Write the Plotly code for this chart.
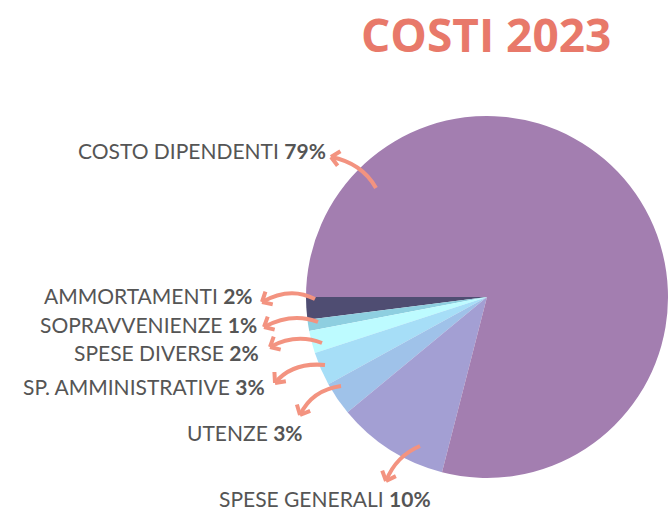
import math

import plotly.graph_objects as go

W, H = 668, 511

# ── Data ──────────────────────────────────────────────────────────────────────
categorie = [
    "AMMORTAMENTI",
    "SOPRAVVENIENZE",
    "SPESE DIVERSE",
    "SP. AMMINISTRATIVE",
    "UTENZE",
    "SPESE GENERALI",
    "COSTO DIPENDENTI",
]
percentuali = [2, 1, 2, 3, 3, 10, 79]
colori = ["#4f4d72", "#8ecfe0", "#bdfbff", "#a6def7", "#9fc2e9", "#a39fd3", "#a37eb0"]

# label anchor (px) and arrow path (start, control, tip) in px, same order as categorie
_LABEL_POS = [
    (255, 295, "right"),
    (259, 324, "right"),
    (261, 352, "right"),
    (267, 386, "right"),
    (305, 432, "right"),
    (325, 498, "center"),
    (328, 150, "right"),
]
_ARROWS = [
    ((315, 299), (290, 286), (262, 302)),
    ((318, 322), (292, 312), (264, 327)),
    ((322, 343), (296, 333), (270, 347)),
    ((325, 365), (292, 362), (275, 383)),
    ((341, 386), (312, 390), (300, 415)),
    ((420, 446), (396, 456), (386, 481)),
    ((376, 188), (362, 163), (331, 157)),
]
_ARROW_COLOR = "#f39380"
_TEXT_COLOR = "#555555"
_LABEL_FONT = "Lato, sans-serif"


def _px(x, y):
    return x / W, 1 - y / H


def _arrow_shapes(start, ctrl, tip):
    (x0, y0), (x1, y1), (x2, y2) = _px(*start), _px(*ctrl), _px(*tip)
    curve = dict(
        type="path", xref="paper", yref="paper",
        path=f"M {x0},{y0} Q {x1},{y1} {x2},{y2}",
        line=dict(color=_ARROW_COLOR, width=4),
    )
    # arrowhead from the tangent at the tip (pixel space)
    ang = math.atan2(tip[1] - ctrl[1], tip[0] - ctrl[0])
    heads = []
    for s in (1, -1):
        a = ang + math.pi - s * math.radians(42)
        hx, hy = _px(tip[0] + 11 * math.cos(a), tip[1] + 11 * math.sin(a))
        heads.append(f"M {hx},{hy} L {x2},{y2}")
    head = dict(
        type="path", xref="paper", yref="paper",
        path=" ".join(heads),
        line=dict(color=_ARROW_COLOR, width=4),
    )
    return [curve, head]


# ── Figure ────────────────────────────────────────────────────────────────────
cx, cy, r = 487, 297, 181
# counterclockwise pies end their first slice at `rotation`, so offset it
# to make the first slice start at 9 o'clock
rot = 270 - percentuali[0] / sum(percentuali) * 360
fig = go.Figure(
    go.Pie(
        labels=categorie,
        values=percentuali,
        marker=dict(colors=colori, line=dict(width=0)),
        sort=False,
        direction="counterclockwise",
        rotation=rot,
        textinfo="none",
        hoverinfo="label+percent",
        domain=dict(
            x=[(cx - r) / W, (cx + r) / W],
            y=[1 - (cy + r) / H, 1 - (cy - r) / H],
        ),
        showlegend=False,
    )
)

shapes = []
for a in _ARROWS:
    shapes += _arrow_shapes(*a)

annotations = []
for nome, v, (x, y, align) in zip(categorie, percentuali, _LABEL_POS):
    px_, py_ = _px(x, y)
    annotations.append(dict(
        x=px_, y=py_, xref="paper", yref="paper",
        text=f"{nome} <b>{v}%</b>",
        showarrow=False,
        xanchor=align, yanchor="middle",
        font=dict(family=_LABEL_FONT, size=21, color=_TEXT_COLOR),
    ))

tx, ty = _px(486, 34)
annotations.append(dict(
    x=tx, y=ty, xref="paper", yref="paper",
    text="<b>COSTI 2023</b>", showarrow=False,
    xanchor="center", yanchor="middle",
    font=dict(family="Open Sans, sans-serif", size=46, color="#e8796a"),
))

fig.update_layout(
    width=W, height=H,
    margin=dict(l=0, r=0, t=0, b=0),
    paper_bgcolor="white",
    plot_bgcolor="white",
    shapes=shapes,
    annotations=annotations,
)

fig.write_html(
    "out.html",
    config={"displayModeBar": False},
    post_script="document.body.style.margin='0';",
)
